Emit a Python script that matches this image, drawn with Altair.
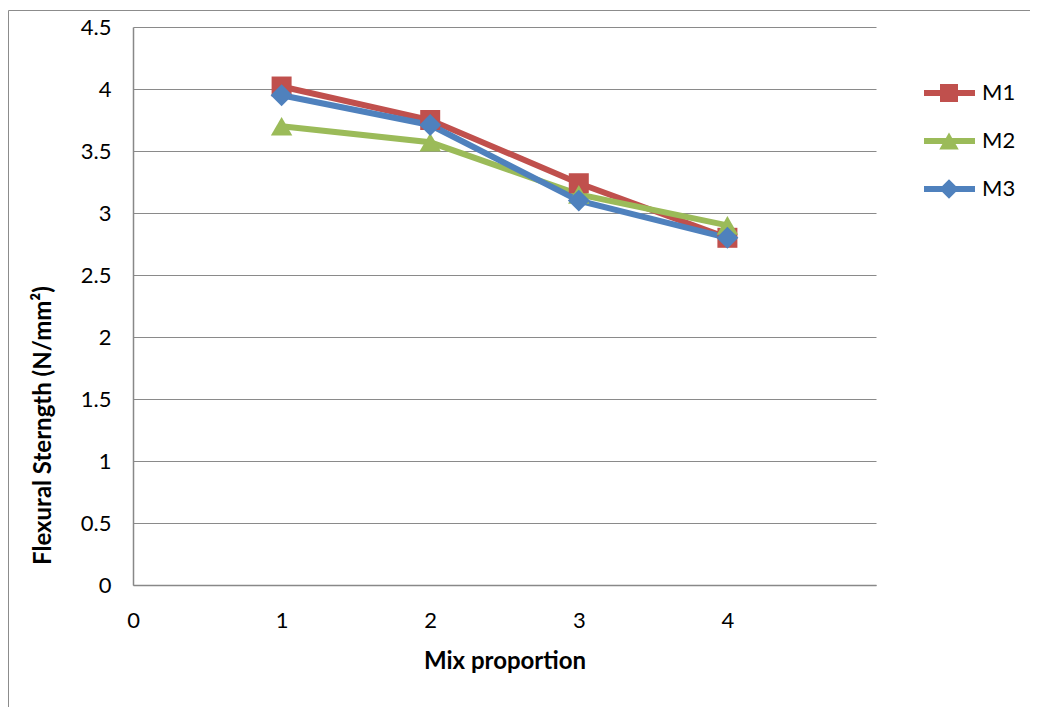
import altair as alt
import pandas as pd

mix = [1, 2, 3, 4]
m1 = [4.02, 3.75, 3.24, 2.80]
m2 = [3.70, 3.57, 3.15, 2.90]
m3 = [3.95, 3.71, 3.10, 2.80]
series_names = ["M1", "M2", "M3"]
colors = ["#C0504D", "#9BBB59", "#4F81BD"]
marker_shapes = ["square", "triangle-up", "diamond"]
marker_sizes = [400, 460, 480]
x_ticks = [0, 1, 2, 3, 4]
y_ticks = [0, 0.5, 1, 1.5, 2, 2.5, 3, 3.5, 4, 4.5]

rows = []
for name, vals in zip(series_names, [m1, m2, m3]):
    for xv, yv in zip(mix, vals):
        rows.append({"series": name, "mix": xv, "value": yv})
df = pd.DataFrame(rows)
legend_df = pd.DataFrame({"series": series_names})

FONT = "Lato"
W, H = 743, 558

color_scale = alt.Scale(domain=series_names, range=colors)
xs = alt.Scale(domain=[0, 5], nice=False)
ys = alt.Scale(domain=[0, 4.5], nice=False)

x_enc = alt.X("mix:Q", scale=xs, title="Mix proportion",
              axis=alt.Axis(values=x_ticks, grid=False, ticks=False, labelPadding=25,
                            labelFlush=False, titlePadding=18, domainColor="#888888",
                            format="d"))
y_enc = alt.Y("value:Q", scale=ys, title="Flexural Sterngth (N/mm²)",
              axis=alt.Axis(values=y_ticks, grid=True, ticks=False, labelPadding=22,
                            format="~g", labelFlush=False,
                            domainColor="#888888", gridColor="#8a8a8a", gridOpacity=1,
                            titleX=-90, titleY=398, titleAngle=-90, titleBaseline="middle",
                            titleAlign="center"))

frame_src = pd.DataFrame({"a": [0]})
top_line = alt.Chart(frame_src).mark_rule(color="#8c8c8c", strokeWidth=1).encode(
    x=alt.value(-124.5), x2=alt.value(1200), y=alt.value(-16.5))
left_line = alt.Chart(frame_src).mark_rule(color="#8c8c8c", strokeWidth=1).encode(
    x=alt.value(-124.5), y=alt.value(-16.5), y2=alt.value(900))

lines = alt.Chart(df).mark_line(strokeWidth=6).encode(
    x=x_enc, y=y_enc,
    color=alt.Color("series:N", scale=color_scale, legend=None),
    detail="series:N",
)

point_layers = []
for name, shp, sz in zip(series_names, marker_shapes, marker_sizes):
    point_layers.append(
        alt.Chart(df).transform_filter(alt.datum.series == name).mark_point(
            filled=True, shape=shp, size=sz, opacity=1, strokeWidth=0
        ).encode(
            x="mix:Q", y="value:Q",
            color=alt.Color("series:N", scale=color_scale, legend=None),
        )
    )

# manual legend (line + marker + label), rows placed by a point scale
leg_y = alt.Y("series:N", scale=alt.Scale(type="point", domain=series_names,
                                          range=[66, 162], padding=0), axis=None)
leg_lines = alt.Chart(legend_df).mark_rule(strokeWidth=6).encode(
    x=alt.value(791), x2=alt.value(842), y=leg_y,
    color=alt.Color("series:N", scale=color_scale, legend=None),
)
leg_marks = []
for name, shp, sz in zip(series_names, marker_shapes, [324, 380, 380]):
    leg_marks.append(
        alt.Chart(legend_df).transform_filter(alt.datum.series == name).mark_point(
            filled=True, shape=shp, size=sz, opacity=1, strokeWidth=0
        ).encode(
            x=alt.value(816), y=leg_y,
            color=alt.Color("series:N", scale=color_scale, legend=None),
        )
    )
leg_text = alt.Chart(legend_df).mark_text(
    align="left", baseline="middle", font=FONT, fontSize=22, color="#000000"
).encode(x=alt.value(849), y=leg_y, text="series:N")

legend_layer = alt.layer(leg_lines, *leg_marks, leg_text)

main = alt.layer(top_line, left_line, lines, *point_layers)

chart = alt.layer(main, legend_layer).resolve_scale(y="independent").properties(
    width=W, height=H,
    autosize=alt.AutoSizeParams(type="none"),
    padding={"left": 125, "top": 19, "right": 154, "bottom": 122},
    background="white",
).configure_view(stroke=None).configure_axis(
    labelFont=FONT, labelFontSize=22, labelColor="#000000",
    titleFont=FONT, titleFontSize=24, titleFontWeight="bold", titleColor="#000000",
    domainWidth=1.5, gridWidth=1.2,
)

chart.save("out.html", embed_options={"renderer": "svg", "actions": False})
